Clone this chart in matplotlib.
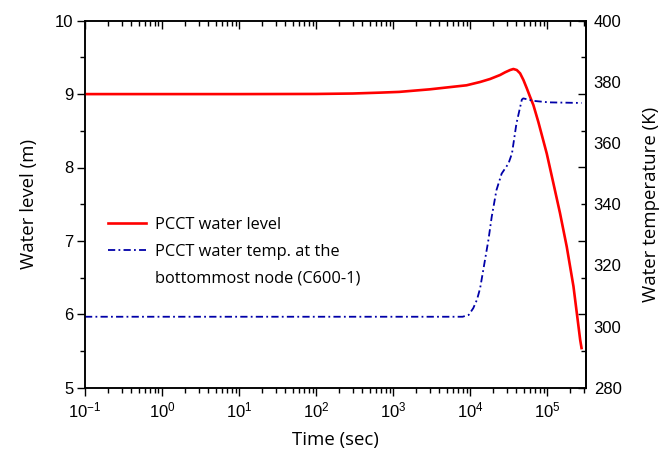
import matplotlib
matplotlib.use("Agg")
import matplotlib.pyplot as plt
from matplotlib.ticker import MultipleLocator, LogLocator, NullFormatter, FixedLocator
from matplotlib.lines import Line2D

# ---- data ----
level_time = [0.1, 1, 10, 100, 300, 680, 1200, 3000, 9000, 13500, 18200, 21100, 24500,
              28500, 33100, 36500, 40400, 44600, 49300, 54500, 60000, 66400, 77000,
              99000, 121000, 147000, 180000, 220000, 269000, 280000]
level_m = [9.0, 9.0, 9.0, 9.002, 9.008, 9.02, 9.03, 9.065, 9.12, 9.165, 9.206, 9.233, 9.26,
           9.297, 9.328, 9.342, 9.328, 9.283, 9.192, 9.079, 8.965, 8.85, 8.62,
           8.19, 7.78, 7.38, 6.92, 6.38, 5.65, 5.54]

temp_time = [0.1, 1, 10, 100, 1000, 8000, 9600, 11000, 12300, 13500, 15600, 17300, 19100,
             22000, 25700, 31500, 35000, 40000, 47000, 49000, 66000, 105000, 280000]
temp_K = [303.2, 303.2, 303.2, 303.2, 303.2, 303.2, 303.8, 306.0, 308.8, 312.5, 321.7, 328.3, 335.9,
          344.6, 350.0, 353.3, 356.6, 366.4, 374.2, 374.6, 373.8, 373.3, 373.1]

x_ticks = [1e-1, 1e0, 1e1, 1e2, 1e3, 1e4, 1e5]

label_level = "PCCT water level"
label_temp_1 = "PCCT water temp. at the"
label_temp_2 = "bottommost node (C600-1)"

plt.rcParams['font.family'] = ['Liberation Sans', 'DejaVu Sans']
plt.rcParams['mathtext.fontset'] = 'custom'
plt.rcParams['mathtext.rm'] = 'Liberation Sans'
plt.rcParams['mathtext.it'] = 'Liberation Sans'

fig = plt.figure(figsize=(6.72, 4.54), dpi=100)
ax = fig.add_axes([85/672, 1-387.7/454, (586-85)/672, (387.7-20.7)/454])
ax2 = ax.twinx()

red = '#FF0000'
blue = '#0000A8'
dashdot = (0, (4, 1.8, 1, 1.8))

ax.plot(level_time, level_m, color=red, lw=1.9, zorder=3)
ax2.plot(temp_time, temp_K, color=blue, lw=1.3, linestyle=dashdot)

ax.set_xscale('log')
ax.set_xlim(0.1, 3.2e5)
ax.set_ylim(5, 10)
ax2.set_ylim(280, 400)

ax.xaxis.set_major_locator(FixedLocator(x_ticks))
ax.xaxis.set_minor_locator(LogLocator(base=10, subs=range(2, 10), numticks=20))
ax.xaxis.set_minor_formatter(NullFormatter())
ax.yaxis.set_major_locator(MultipleLocator(1))
ax.yaxis.set_minor_locator(MultipleLocator(0.5))
ax2.yaxis.set_major_locator(MultipleLocator(20))

lw_sp = 1.1
for a in (ax, ax2):
    for s in a.spines.values():
        s.set_linewidth(lw_sp)

ax.tick_params(which='major', direction='out', length=5.5, width=1.0, labelsize=12, pad=3)
ax.tick_params(which='minor', direction='out', length=3.3, width=1.0)
ax.tick_params(axis='x', pad=4)
ax2.tick_params(axis='y', length=0, labelsize=12, pad=5.5)

# mirrored inward ticks on top (via the twin's shared x axis)
ax2.xaxis.set_visible(True)
ax2.tick_params(axis='x', which='both', bottom=False, top=True, labelbottom=False,
                labeltop=False, direction='in', width=1.0)
ax2.tick_params(axis='x', which='major', length=5.5)
ax2.tick_params(axis='x', which='minor', length=3.3)

# mirrored inward ticks on right
secy = ax.secondary_yaxis('right')
secy.yaxis.set_major_locator(MultipleLocator(1))
secy.yaxis.set_minor_locator(MultipleLocator(0.5))
secy.tick_params(which='major', direction='in', length=5.5, width=1.0, labelright=False)
secy.tick_params(which='minor', direction='in', length=3.3, width=1.0)
secy.yaxis.set_major_formatter(NullFormatter())
secy.spines['right'].set_linewidth(lw_sp)

lab_font = dict(family=['Open Sans', 'DejaVu Sans'], fontsize=13.4)
ax.set_xlabel("Time (sec)", labelpad=7, **lab_font)
ax.set_ylabel("Water level (m)", labelpad=12, **lab_font)
ax2.set_ylabel("Water temperature (K)", labelpad=15, **lab_font)

handles = [Line2D([], [], color=red, lw=1.9),
           Line2D([], [], color=blue, lw=1.3, linestyle=dashdot),
           Line2D([], [], color='none')]
leg = ax2.legend(handles, [label_level, label_temp_1, label_temp_2],
                 loc='upper left', bbox_to_anchor=(0.046, 0.465), frameon=False,
                 borderpad=0, borderaxespad=0, handlelength=2.35, handletextpad=0.55,
                 labelspacing=0.65, prop={'family': ['Open Sans', 'DejaVu Sans'], 'size': 11.75})

fig.savefig("out.png", dpi=100)
